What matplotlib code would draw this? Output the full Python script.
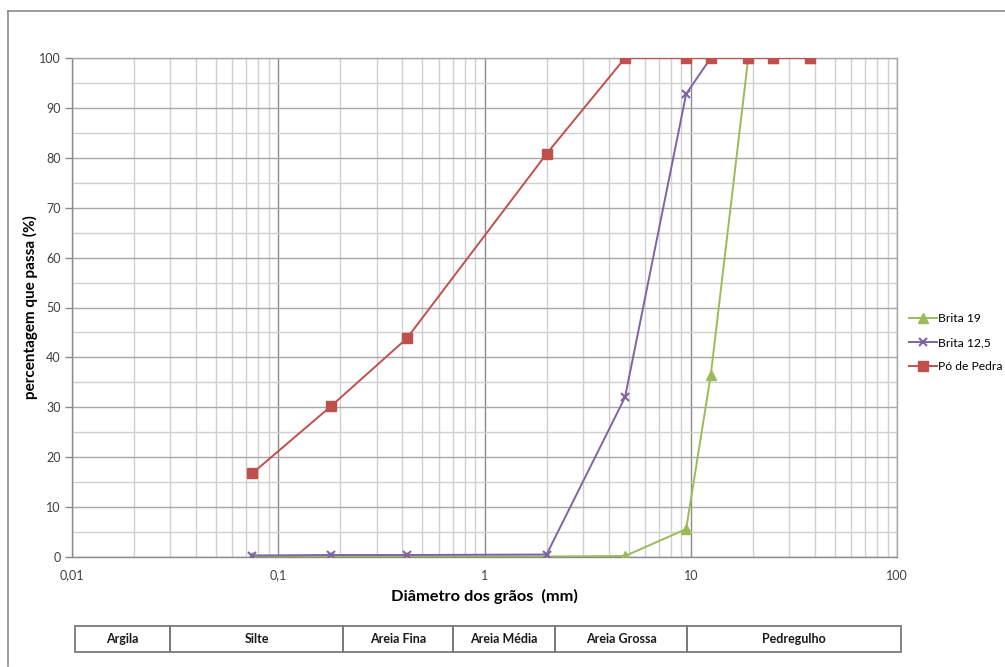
import matplotlib
matplotlib.use("Agg")
import matplotlib.pyplot as plt
from matplotlib.lines import Line2D
from matplotlib.patches import Rectangle
from matplotlib.ticker import LogLocator, FixedLocator, NullFormatter, FuncFormatter

plt.rcParams['font.family'] = ['Lato', 'DejaVu Sans']

# Sieve openings (mm)
sieves = [0.075, 0.18, 0.42, 2.0, 4.8, 9.5, 12.5, 19.0, 25.0, 38.0]

# Percentage passing for each material
brita_19 = [0.1, 0.1, 0.1, 0.1, 0.2, 5.6, 36.4, 100, 100, 100]
brita_125 = [0.3, 0.4, 0.4, 0.5, 32.0, 92.8, 100, 100, 100, 100]
po_de_pedra = [16.8, 30.2, 43.8, 80.8, 100, 100, 100, 100, 100, 100]

series_names = ["Brita 19", "Brita 12,5", "Pó de Pedra"]

# Soil classification bands shown under the chart
soil_classes = ["Argila", "Silte", "Areia Fina", "Areia Média", "Areia Grossa", "Pedregulho"]

W, H = 1005, 667
fig = plt.figure(figsize=(W / 100, H / 100), dpi=100)
fig.patch.set_facecolor("white")


def fx(px):
    return px / W


def fy(py):
    return 1 - py / H


# outer frame (top and left edges)
fig.add_artist(Line2D([fx(8), 1.0], [fy(11), fy(11)], color="#8c8c8c", lw=1.2))
fig.add_artist(Line2D([fx(8), fx(8)], [fy(11), fy(666)], color="#8c8c8c", lw=1.2))

ax = fig.add_axes([fx(72), fy(557), fx(897) - fx(72), fy(58) - fy(557)])
ax.set_xscale("log")
ax.set_xlim(0.01, 100)
ax.set_ylim(0, 100)

# grid
ax.xaxis.set_major_locator(LogLocator(base=10, numticks=10))
ax.xaxis.set_minor_locator(LogLocator(base=10, subs=range(2, 10), numticks=50))
ax.xaxis.set_minor_formatter(NullFormatter())
ax.xaxis.set_major_formatter(FuncFormatter(lambda v, p: f"{v:g}".replace(".", ",")))
ax.yaxis.set_major_locator(FixedLocator(range(0, 101, 10)))
ax.yaxis.set_minor_locator(FixedLocator(range(5, 100, 10)))

ax.grid(which="minor", axis="both", color="#d0d0d0", lw=1.0)
ax.grid(which="major", axis="y", color="#a8a8a8", lw=1.0)
ax.grid(which="major", axis="x", color="#8a8a8a", lw=1.0)
ax.set_axisbelow(True)

for s in ax.spines.values():
    s.set_color("#a8a8a8")
    s.set_linewidth(1.0)
ax.spines["left"].set_color("#8a8a8a")
ax.spines["bottom"].set_color("#8a8a8a")

ax.tick_params(axis="y", which="major", length=5, width=1, color="#8a8a8a",
               labelsize=9, labelcolor="#404040", pad=3)
ax.tick_params(axis="y", which="minor", length=0)
ax.tick_params(axis="x", which="major", length=0, labelsize=9,
               labelcolor="#404040", pad=9)
ax.tick_params(axis="x", which="minor", length=0)

ax.plot(sieves, brita_19, color="#9BBB59", lw=1.4, marker="^", ms=6.5,
        mfc="#9BBB59", mec="#9BBB59", label=series_names[0], zorder=3)
ax.plot(sieves, brita_125, color="#8064A2", lw=1.4, marker="x", ms=6,
        mew=1.5, mec="#8064A2", label=series_names[1], zorder=4)
ax.plot(sieves, po_de_pedra, color="#C0504D", lw=1.4, marker="s", ms=6.5,
        mfc="#C0504D", mec="#C0504D", label=series_names[2], zorder=5)

ax.set_xlabel("Diâmetro dos grãos  (mm)", fontsize=11.8, fontweight="bold", labelpad=5)
ax.set_ylabel("percentagem que passa (%)", fontsize=11, fontweight="bold", labelpad=1)

handles, labels = ax.get_legend_handles_labels()
fig.legend(handles, labels, loc="upper left", bbox_to_anchor=(fx(904), fy(308)),
           frameon=False, fontsize=8.7, handlelength=2.3, handletextpad=0.1,
           labelspacing=1.1, borderaxespad=0)

# classification table
tbl_top, tbl_bot = 626, 652
edges = [75, 170, 343, 453, 555, 687, 901]
for i, name in enumerate(soil_classes):
    x0, x1 = edges[i], edges[i + 1]
    fig.add_artist(Rectangle((fx(x0), fy(tbl_bot)), fx(x1) - fx(x0), fy(tbl_top) - fy(tbl_bot),
                             fill=False, edgecolor="#7a7a7a", lw=1.3))
    fig.text(fx((x0 + x1) / 2), fy((tbl_top + tbl_bot) / 2), name, ha="center", va="center",
             fontsize=9, fontweight="bold", color="#1a1a1a")

fig.savefig("out.png", dpi=100)
